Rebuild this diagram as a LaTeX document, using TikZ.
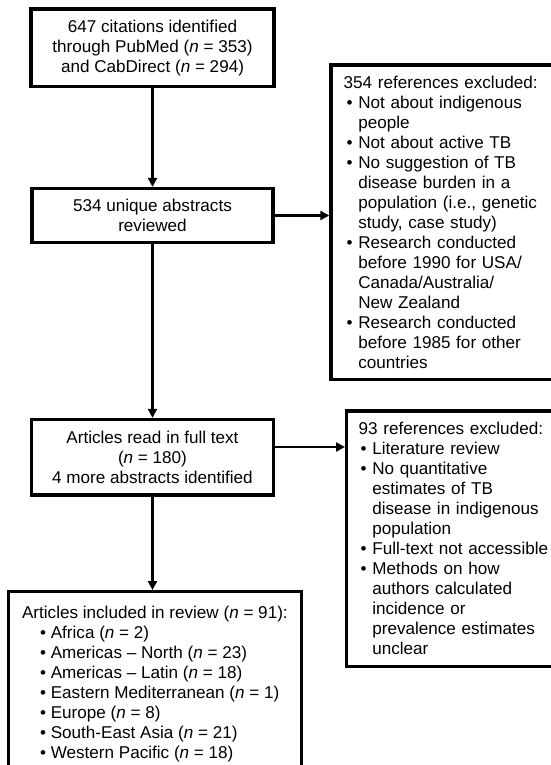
\documentclass[tikz,border=0pt]{standalone}
\usepackage{fontspec}
\setmainfont{Liberation Sans}
\usetikzlibrary{arrows.meta}
\newcommand{\blt}{\textbullet\ }
\newcommand{\blcont}{\hphantom{\textbullet\ }}

\begin{document}
\begin{tikzpicture}[x=1pt,y=-1pt,font=\fontsize{17.1}{20}\selectfont,
  box/.style={draw,line width=3.3pt,inner sep=0pt},
  flow/.style={line width=2.8pt,-{Triangle[length=9pt,width=9pt]}}]
  \useasboundingbox (0,0) rectangle (550,765);
  \node[box,align=center,minimum width=243,minimum height=77.5] (cit) at (152.5,47.75)
    {647 citations identified\\through PubMed (\textit{n} = 353)\\and CabDirect (\textit{n} = 294)};
  \node[box,align=center,minimum width=241,minimum height=54] (abs) at (152.5,215.5)
    {534 unique abstracts\\reviewed};
  \node[box,align=center,minimum width=242,minimum height=75.5] (full) at (152.5,457.25)
    {Articles read in full text\\(\textit{n} = 180)\\4 more abstracts identified};
  \node[box,anchor=north west,align=left,minimum width=293.5,minimum height=185] (incl) at (6.5,590)
    {Articles included in review (\textit{n} = 91):\\
     \hspace*{18pt}\blt Africa (\textit{n} = 2)\\
     \hspace*{18pt}\blt Americas \textendash\ North (\textit{n} = 23)\\
     \hspace*{18pt}\blt Americas \textendash\ Latin (\textit{n} = 18)\\
     \hspace*{18pt}\blt Eastern Mediterranean (\textit{n} = 1)\\
     \hspace*{18pt}\blt Europe (\textit{n} = 8)\\
     \hspace*{18pt}\blt South-East Asia (\textit{n} = 21)\\
     \hspace*{18pt}\blt Western Pacific (\textit{n} = 18)};
  \node[box,anchor=north west,align=left,inner xsep=12.7pt,text width=230pt,minimum height=314.2] (excla) at (329.3,63.3)
    {354 references excluded:\\
     \hspace*{3pt}\blt Not about indigenous\\
     \hspace*{3pt}\blcont people\\
     \hspace*{3pt}\blt Not about active TB\\
     \hspace*{3pt}\blt No suggestion of TB\\
     \hspace*{3pt}\blcont disease burden in a\\
     \hspace*{3pt}\blcont population (i.e., genetic\\
     \hspace*{3pt}\blcont study, case study)\\
     \hspace*{3pt}\blt Research conducted\\
     \hspace*{3pt}\blcont before 1990 for USA/\\
     \hspace*{3pt}\blcont Canada/Australia/\\
     \hspace*{3pt}\blcont New Zealand\\
     \hspace*{3pt}\blt Research conducted\\
     \hspace*{3pt}\blcont before 1985 for other\\
     \hspace*{3pt}\blcont countries};
  \node[box,anchor=north west,align=left,inner xsep=12pt,text width=230pt,minimum height=255.7] (exclb) at (345,409.3)
    {93 references excluded:\\
     \hspace*{2pt}\blt Literature review\\
     \hspace*{2pt}\blt No quantitative\\
     \hspace*{2pt}\blcont estimates of TB\\
     \hspace*{2pt}\blcont disease in indigenous\\
     \hspace*{2pt}\blcont population\\
     \hspace*{2pt}\blt Full-text not accessible\\
     \hspace*{2pt}\blt Methods on how\\
     \hspace*{2pt}\blcont authors calculated\\
     \hspace*{2pt}\blcont incidence or\\
     \hspace*{2pt}\blcont prevalence estimates\\
     \hspace*{2pt}\blcont unclear};
  \draw[flow] (cit) -- (abs);
  \draw[flow] (abs) -- (full);
  \draw[flow] (full.south) -- (full.south |- incl.north);
  \draw[flow] (abs.east) -- (abs.east -| excla.west);
  \draw[flow] ([yshift=10.25pt]full.east) -- ([yshift=10.25pt]full.east -| exclb.west);
\end{tikzpicture}
\end{document}
